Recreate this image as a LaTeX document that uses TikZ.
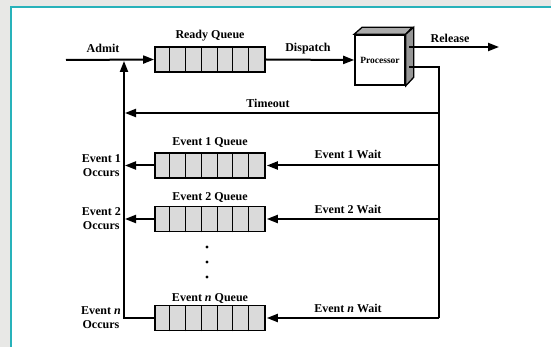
\documentclass[tikz,border=0pt]{standalone}
\usepackage{fontspec}
\setmainfont{Liberation Serif}
\usetikzlibrary{arrows.meta,calc}
\definecolor{teal1}{RGB}{40,178,186}
\definecolor{bggrey}{RGB}{232,232,230}
\definecolor{cellgrey}{RGB}{218,218,218}
\definecolor{facegrey}{RGB}{150,150,150}
\tikzset{
  lbl/.style={font=\fontsize{12}{13}\selectfont\bfseries, inner sep=0pt},
  conn/.style={line width=2pt},
  arr/.style={conn, -{Triangle[length=11pt,width=8pt]}},
  queuebox/.style={draw, line width=1.8pt, fill=cellgrey, minimum width=110pt, minimum height=25pt, inner sep=0pt},
  procbox/.style={draw, line width=1.6pt, fill=white, minimum width=50pt, minimum height=50pt, inner sep=0pt, font=\fontsize{9.5}{10}\selectfont\bfseries},
}
\newcommand{\qcells}[1]{%
  \foreach \i in {1,...,6} {
    \draw[line width=0.7pt] ($(#1.south west)+(\i*110/7,0)$) -- ($(#1.north west)+(\i*110/7,0)$);
  }%
}
\begin{document}
\begin{tikzpicture}[x=1pt,y=-1pt]
\useasboundingbox (0,0) rectangle (551,347);
\fill[bggrey] (0,0) rectangle (551,347);
\fill[white] (11,7) rectangle (551,347);
\draw[teal1, line width=1.2pt] (11,347) -- (11,7) -- (551,7);

% queues
\node[queuebox] (rq) at (210,59.5) {};
\node[queuebox] (q1) at (210,165.5) {};
\node[queuebox] (q2) at (210,219) {};
\node[queuebox] (qn) at (210,318) {};
\qcells{rq}\qcells{q1}\qcells{q2}\qcells{qn}

% processor
\node[procbox] (proc) at (380,60) {Processor};
\draw[line width=1.3pt, fill=facegrey!80] (proc.north west) -- ++(8,-7) -- ++(50,0) -- (proc.north east) -- cycle;
\draw[line width=1.3pt, fill=facegrey] (proc.north east) -- ++(8,-7) -- ++(0,50) -- (proc.south east) -- cycle;

% coordinates
\coordinate (admitstart) at (66,60);
\coordinate (vtop) at (124,61);
\coordinate (vbot) at (124,318);
\coordinate (relout) at (409,47);
\coordinate (relend) at (499,47);
\coordinate (pout) at (409,67);
\coordinate (rtop) at (439,67);
\coordinate (rbot) at (439,318);
\coordinate (tor) at (439,113);
\coordinate (tol) at (125,113);
\coordinate (w1) at (439,165.5);
\coordinate (w2) at (439,219);
\coordinate (o1) at (125,165.5);
\coordinate (o2) at (125,219);

% connectors
\draw[arr] (admitstart) -- (rq.west);
\draw[arr] (rq.east) -- (proc.west);
\draw[arr] (relout) -- (relend);
\draw[conn] (pout) -- (rtop) -- (rbot);
\draw[arr] (rbot) -- ([xshift=0.9pt]qn.east);
\draw[arr] (tor) -- (tol);
\draw[arr] (w1) -- ([xshift=0.9pt]q1.east);
\draw[arr] (w2) -- ([xshift=0.9pt]q2.east);
\draw[arr] (q1.west) -- (o1);
\draw[arr] (q2.west) -- (o2);
\draw[arr] (qn.west) -- (vbot) -- (vtop);

% labels
\node[lbl] (admitl) at (103,48) {Admit};
\node[lbl] (rql) at (210,36) {Ready Queue};
\node[lbl] (displ) at (308,49) {Dispatch};
\node[lbl] (rell) at (450,38) {Release};
\node[lbl] (tol2) at (268,103) {Timeout};
\node[lbl] (q1l) at (210,143) {Event 1 Queue};
\node[lbl] (q2l) at (210,198) {Event 2 Queue};
\node[lbl] (qnl) at (210,298) {Event \emph{n} Queue};
\node[lbl] (w1l) at (348,154) {Event 1 Wait};
\node[lbl] (w2l) at (348,209) {Event 2 Wait};
\node[lbl] (wnl) at (348,308) {Event \emph{n} Wait};
\node[lbl, align=center, anchor=east] (o1l) at (121,165.5) {Event 1\\[1pt]Occurs};
\node[lbl, align=center, anchor=east] (o2l) at (121,219) {Event 2\\[1pt]Occurs};
\node[lbl, align=center, anchor=east] (onl) at (121,318) {Event \emph{n}\\[1pt]Occurs};
\foreach \yy/\nm in {247/d1,262/d2,277/d3} {
  \fill (207,\yy) circle (1.6pt) coordinate (\nm);
}
\end{tikzpicture}
\end{document}
